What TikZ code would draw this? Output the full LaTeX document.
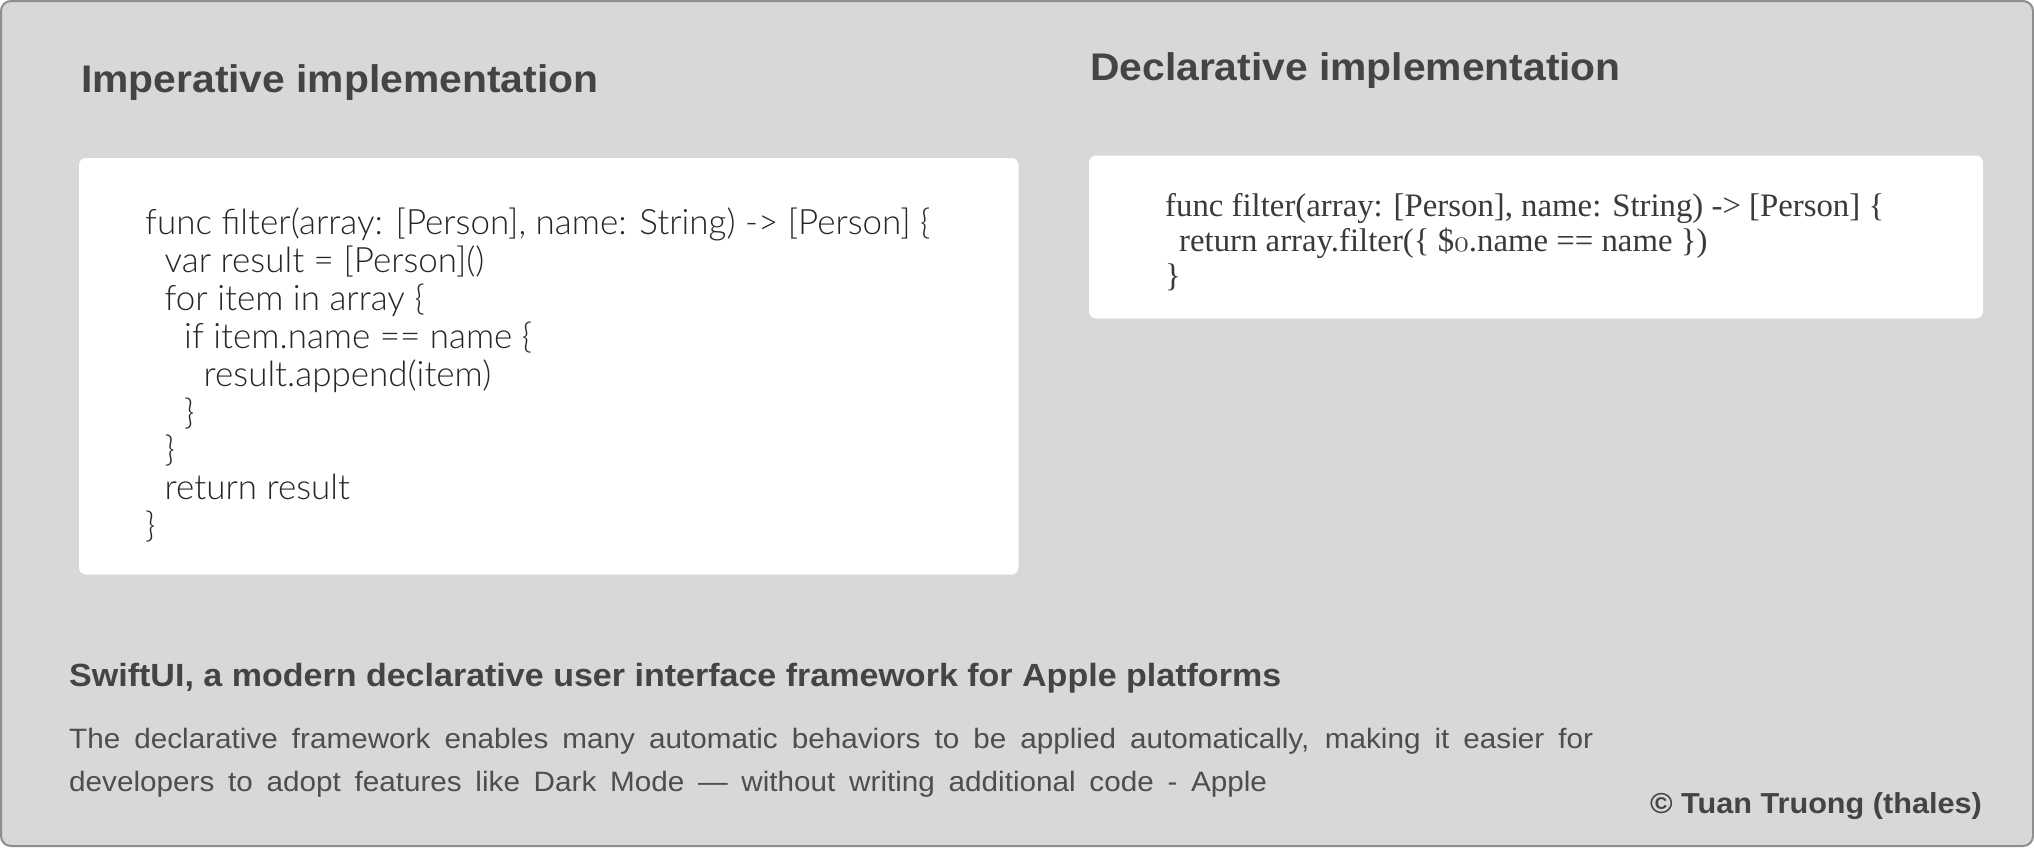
\documentclass[tikz,border=0pt]{standalone}
\usepackage{fontspec}
\newfontfamily\hfont{Liberation Sans}[FakeStretch=1.06]
\IfFontExistsTF{Lato Light}{\newfontfamily\impfont{Lato Light}}{\newfontfamily\impfont{Lato}}
\newfontfamily\decfont{Liberation Serif}
\newcommand\oszero{\scalebox{1.22}{\fontencoding{OML}\fontfamily{cmm}\fontseries{m}\fontshape{it}\selectfont 0}}
\definecolor{bgc}{HTML}{D8D8D8}
\definecolor{bordc}{HTML}{8E8E8E}
\definecolor{titlec}{HTML}{444444}
\definecolor{impc}{HTML}{262626}
\definecolor{decc}{HTML}{3A3A3A}
\definecolor{parac}{HTML}{4E4E4E}
\newlength\wimp
\newlength\wdec
\begin{document}
\settowidth\wimp{\impfont\fontsize{10}{12}\selectfont func filter(array: [Person], name: String) -> [Person] \{}%
\settowidth\wdec{\decfont\fontsize{10}{12}\selectfont func filter(array: [Person], name: String) -> [Person] \{}%
\pgfmathsetmacro\impfs{7850/\wimp}%
\pgfmathsetmacro\decfs{7190/\wdec}%
\begin{tikzpicture}[x=1pt,y=-1pt]
\tikzset{
  whitebox/.style={fill=white, rounded corners=7pt, inner sep=0pt, outer sep=0pt, anchor=north west},
  titletext/.style={anchor=base west, inner sep=0pt, text=titlec, font=\hfont\bfseries\fontsize{38.5}{40}\selectfont},
  impline/.style={anchor=base west, inner sep=0pt, text=impc, font=\impfont\fontsize{\impfs}{38}\selectfont},
  decline/.style={anchor=base west, inner sep=0pt, text=decc, font=\decfont\fontsize{\decfs}{35}\selectfont},
  subhead/.style={anchor=base west, inner sep=0pt, text=titlec, font=\hfont\bfseries\fontsize{32.1}{36}\selectfont},
  paratext/.style={anchor=base west, inner sep=0pt, text=parac, font=\hfont\fontsize{28}{43}\selectfont},
  credit/.style={anchor=base east, inner sep=0pt, text=titlec, font=\hfont\bfseries\fontsize{28.9}{32}\selectfont},
}
\useasboundingbox (0,0) rectangle (2034,847);
\fill[white] (0,0) rectangle (2034,847);
\draw[bordc, line width=2pt, fill=bgc, rounded corners=10pt] (1,1) rectangle (2033,846);

% boxes
\node[whitebox, minimum width=939.5pt, minimum height=416.5pt] (impbox) at (79,158) {};
\node[whitebox, minimum width=894pt, minimum height=163pt] (decbox) at (1089,155.5) {};

% titles
\node[titletext] (imptitle) at (81,92) {Imperative implementation};
\node[titletext] (dectitle) at (1090,80) {Declarative implementation};

% imperative code
\node[impline] (i1) at (145,234.5) {func filter(array: [Person], name: String) -> [Person] \{};
\node[impline] (i2) at (164.5,272.4) {var result = [Person]()};
\node[impline] (i3) at (164.5,310.3) {for item in array \{};
\node[impline] (i4) at (184,348.2) {if item.name == name \{};
\node[impline] (i5) at (203.5,386.1) {result.append(item)};
\node[impline] (i6) at (184,424) {\}};
\node[impline] (i7) at (164.5,461.9) {\}};
\node[impline] (i8) at (164.5,499.8) {return result};
\node[impline] (i9) at (145,537.7) {\}};

% declarative code
\node[decline] (d1) at (1165,216) {func filter(array: [Person], name: String) -> [Person] \{};
\node[decline] (d2) at (1179,251) {return array.filter(\{ \$\oszero.name == name \})};
\node[decline] (d3) at (1165,286) {\}};

% bottom text
\node[subhead] (swift) at (69,686) {SwiftUI, a modern declarative user interface framework for Apple platforms};
\node[paratext] (p1) at (69,748) {\makebox[1524pt][s]{The declarative framework enables many automatic behaviors to be applied automatically, making it easier for}};
\node[paratext] (p2) at (69,791) {\makebox[1198pt][s]{developers to adopt features like Dark Mode — without writing additional code - Apple}};
\node[credit] (copy) at (1982,813) {© Tuan Truong (thales)};
\end{tikzpicture}
\end{document}
